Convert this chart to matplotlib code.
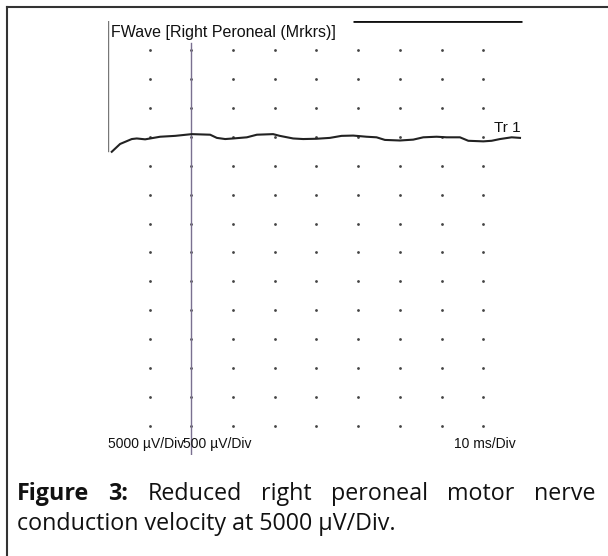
import numpy as np
import matplotlib
matplotlib.use("Agg")
import matplotlib.pyplot as plt
from matplotlib.lines import Line2D

W, H = 608, 556

# trace (ms, divisions relative to baseline)
time_ms = [0.9, 2.9, 5.7, 6.9, 8.9, 12.5, 16.1, 20.1, 24.5, 26.1, 28.1, 30.0, 33.3,
           35.7, 39.6, 41.2, 44.4, 46.8, 50.0, 53.2, 56.0, 58.8, 62.0, 64.4, 66.4,
           70.0, 73.2, 75.6, 78.8, 81.2, 84.4, 86.4, 90.0, 92.0, 94.0, 96.8, 98.8]
amp_div = [-0.52, -0.25, -0.08, -0.06, -0.09, 0.0, 0.03, 0.09, 0.07, -0.04, -0.08,
           -0.06, -0.02, 0.07, 0.09, 0.03, -0.06, -0.08, -0.07, -0.04, 0.03, 0.04,
           0.0, -0.02, -0.11, -0.13, -0.10, -0.02, 0.0, -0.02, -0.02, -0.14, -0.16,
           -0.14, -0.08, -0.02, -0.04]

dot_cols = [10, 20, 30, 40, 50, 60, 70, 80, 90]
dot_rows = [3, 2, 1, 0, -1, -2, -3, -4, -5, -6, -7, -8, -9, -10]
cursor_ms = 20

title = "FWave [Right Peroneal (Mrkrs)]"
trace_label = "Tr 1"
sens_labels = ["5000 \u00b5V/Div", "500 \u00b5V/Div"]
sweep_label = "10 ms/Div"
caption_l1 = ["Figure", "3:", "Reduced", "right", "peroneal", "motor", "nerve"]
caption_l2 = "conduction velocity at 5000 \u00b5V/Div."


def px(x, y):
    return x / W, 1 - y / H


fig = plt.figure(figsize=(W / 100, H / 100), dpi=100)
fig.patch.set_facecolor("white")

# axes area in pixels: x 108..525, y 21..455
ax = fig.add_axes([108 / W, 1 - 455 / H, (525 - 108) / W, (455 - 21) / H])
ax.set_xlim(0, 100)
ax.set_ylim(-11, 4)
ax.axis("off")

gx, gy = np.meshgrid(dot_cols, dot_rows)
ax.scatter(gx.ravel(), gy.ravel(), s=4, c="#444444", linewidths=0, zorder=1)

# left edge and partial top edge
ax.plot([0, 0], [4, -0.5], color="#777777", lw=1.0, zorder=2)
ax.plot([58.8, 99.3], [4, 4], color="#111111", lw=2.0, solid_capstyle="butt", zorder=2)

# cursor
ax.plot([cursor_ms, cursor_ms], [3.24, -11], color="#7a7090", lw=1.0, zorder=3)

ax.plot(time_ms, amp_div, color="#222222", lw=1.5, zorder=4)

fam = ["Liberation Sans", "DejaVu Sans"]
fig.text(*px(111, 37), title, family=fam, fontsize=11.5, color="#111111",
         ha="left", va="baseline")
fig.text(*px(521, 132), trace_label, family=fam, fontsize=11, color="#111111",
         ha="right", va="baseline")
fig.text(*px(108, 448), sens_labels[0], family=fam, fontsize=10, color="#111111",
         ha="left", va="baseline")
fig.text(*px(183, 448), sens_labels[1], family=fam, fontsize=10, color="#111111",
         ha="left", va="baseline")
fig.text(*px(516, 448), sweep_label, family=fam, fontsize=10, color="#111111",
         ha="right", va="baseline")

# outer frame (top and left only visible)
fig.add_artist(Line2D([7 / W, 1], [1 - 7 / H, 1 - 7 / H], color="#333333", lw=1.5))
fig.add_artist(Line2D([7 / W, 7 / W], [0, 1 - 7 / H], color="#333333", lw=1.5))

# caption: second line fitted to its width in the reference, first line justified
cap_fam = ["Open Sans", "DejaVu Sans"]
fig.canvas.draw()
r = fig.canvas.get_renderer()
l2 = fig.text(*px(17, 530), caption_l2, family=cap_fam, fontsize=14,
              color="#111111", ha="left", va="baseline")
cap_size = 14 * 381 / l2.get_window_extent(r).width
l2.set_fontsize(cap_size)

words = []
for i, w in enumerate(caption_l1):
    t = fig.text(0, 0, w, family=cap_fam, fontsize=cap_size, color="#111111",
                 fontweight="bold" if i < 2 else "normal", ha="left", va="baseline")
    words.append(t)
widths = [t.get_window_extent(r).width for t in words]
left, right = 17, 595
gap = (right - left - sum(widths)) / (len(words) - 1)
x = left
for t, wd in zip(words, widths):
    t.set_position(px(x, 500))
    x += wd + gap

fig.savefig("out.png", dpi=100, facecolor="white")
